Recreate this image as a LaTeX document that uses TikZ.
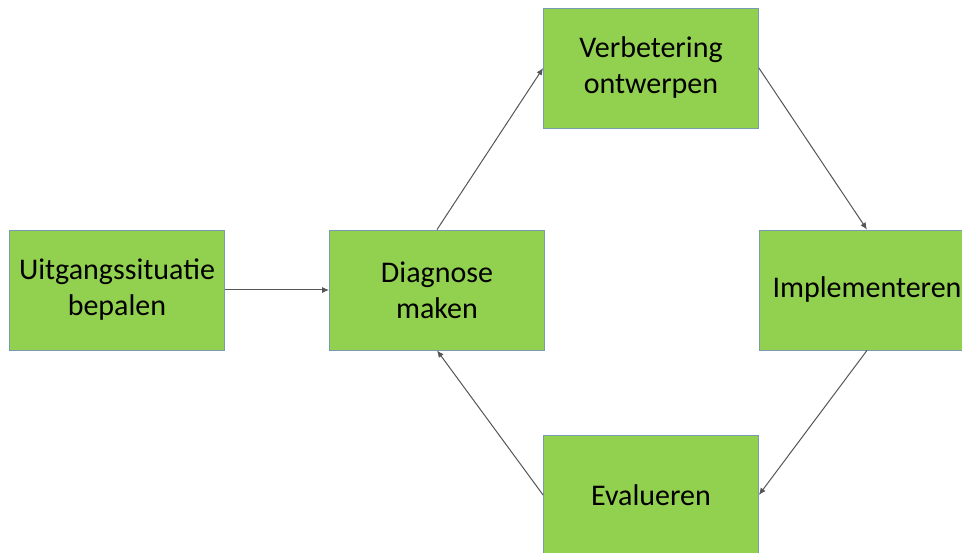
\documentclass[tikz,border=0pt]{standalone}
\usepackage{fontspec}
\setmainfont{Carlito}
\usetikzlibrary{arrows.meta}
\definecolor{stapgroen}{RGB}{146,208,80}
\definecolor{randblauw}{RGB}{120,155,175}
\definecolor{pijlgrijs}{RGB}{85,85,85}
\tikzset{
  stap/.style={rectangle, fill=stapgroen, draw=randblauw, line width=0.8pt,
    minimum width=215pt, minimum height=120pt, align=center,
    font=\fontsize{30}{36}\selectfont},
  pijl/.style={draw=pijlgrijs, line width=1pt, -{Latex[length=7pt,width=6pt]}}
}
\begin{document}
\begin{tikzpicture}[x=1pt, y=-1pt]
    % Kader van de afbeelding
    \useasboundingbox (0,0) rectangle (962,553);
    \clip (0,0) rectangle (962,553);

    % Stappen
    \node[stap] (uitgang) at (117,290) {Uitgangssituatie\\bepalen};
    \node[stap] (diagnose) at (437,290) {Diagnose\\maken};
    \node[stap] (ontwerp) at (651,68) {Verbetering\\ontwerpen};
    \node[stap] (implement) at (867,290) {Implementeren};
    \node[stap] (evalueer) at (651,495) {Evalueren};

    % Pijlen van de cyclus
    \draw[pijl] (uitgang.east) -- (diagnose.west);
    \draw[pijl] (diagnose.north) -- (ontwerp.west);
    \draw[pijl] (ontwerp.east) -- (implement.north);
    \draw[pijl] (implement.south) -- (evalueer.east);
    \draw[pijl] (evalueer.west) -- (diagnose.south);
\end{tikzpicture}
\end{document}
